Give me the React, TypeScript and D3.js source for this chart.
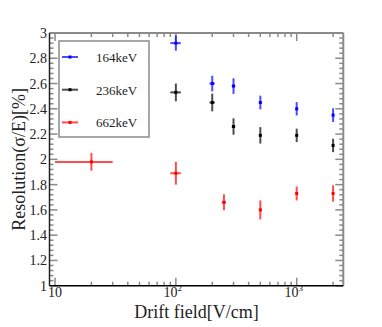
import React from "react";
import * as d3 from "d3";

// drift field [V/cm] and resolution [%] per source line
const fields164 = [100, 200, 300, 500, 1000, 2000];
const res164 = [2.92, 2.6, 2.58, 2.45, 2.4, 2.35];
const err164 = [0.06, 0.062, 0.062, 0.054, 0.053, 0.054];

const fields236 = [100, 200, 300, 500, 1000, 2000];
const res236 = [2.53, 2.45, 2.26, 2.19, 2.19, 2.11];
const err236 = [0.07, 0.07, 0.065, 0.065, 0.053, 0.053];

const fields662 = [20, 100, 250, 500, 1000, 2000];
const res662 = [1.98, 1.89, 1.66, 1.6, 1.73, 1.73];
const err662 = [0.07, 0.09, 0.063, 0.075, 0.055, 0.065];

const fieldErr = 10;

const yMajor = [1, 1.2, 1.4, 1.6, 1.8, 2, 2.2, 2.4, 2.6, 2.8, 3];
const xDecades = [10, 100, 1000];
const xDecadeExp = ["", "2", "3"];

const series = [
  { name: "164keV", color: "#0000ff", x: fields164, y: res164, e: err164 },
  { name: "236keV", color: "#000000", x: fields236, y: res236, e: err236 },
  { name: "662keV", color: "#ff0000", x: fields662, y: res662, e: err662 },
];

const W = 382;
const H = 327;
const font = "'Liberation Serif', 'DejaVu Serif', serif";

export default function App() {
  const x = d3.scaleLog().domain([9, 2430]).range([49.5, 343.3]);
  const y = d3.scaleLinear().domain([1, 3]).range([285.7, 33]);
  const [x0, x1] = x.range();
  const [y0, y1] = y.range();

  const yMinor = d3.range(1, 3.0001, 0.04).filter(
    (v) => !yMajor.some((m) => Math.abs(m - v) < 1e-6)
  );
  const xMinor: number[] = [];
  [10, 100, 1000].forEach((d) => {
    for (let k = 2; k <= 9; k++) if (d * k <= 2430) xMinor.push(d * k);
  });

  const tickColor = "#8a8a8a";

  return (
    <svg
      width={W}
      height={H}
      style={{ position: "absolute", left: 0, top: 0, background: "#fff" }}
      fontFamily={font}
    >
      {/* frame: top and right in grey */}
      <line x1={x0} x2={x1} y1={y1} y2={y1} stroke="#8a8a8a" strokeWidth={2} />
      <line x1={x1} x2={x1} y1={y1} y2={y0} stroke="#8a8a8a" strokeWidth={2} />

      {/* y ticks left and right */}
      {yMajor.map((v) => (
        <g key={"ym" + v}>
          <line x1={x0} x2={x0 + 8} y1={y(v)} y2={y(v)} stroke={tickColor} strokeWidth={1.5} />
          <line x1={x1} x2={x1 - 8} y1={y(v)} y2={y(v)} stroke={tickColor} strokeWidth={1.5} />
          <text x={47} y={y(v) + 5} fontSize={14} textAnchor="end" fill="#222">
            {d3.format("~g")(v)}
          </text>
        </g>
      ))}
      {yMinor.map((v) => (
        <g key={"yn" + v}>
          <line x1={x0} x2={x0 + 4} y1={y(v)} y2={y(v)} stroke={tickColor} strokeWidth={1.5} />
          <line x1={x1} x2={x1 - 4} y1={y(v)} y2={y(v)} stroke={tickColor} strokeWidth={1.5} />
        </g>
      ))}

      {/* x ticks bottom and top */}
      {xDecades.map((v) => (
        <g key={"xm" + v}>
          <line x1={x(v)} x2={x(v)} y1={y0} y2={y0 - 8} stroke={tickColor} strokeWidth={1.5} />
          <line x1={x(v)} x2={x(v)} y1={y1} y2={y1 + 8} stroke={tickColor} strokeWidth={1.5} />
        </g>
      ))}
      {xMinor.map((v) => (
        <g key={"xn" + v}>
          <line x1={x(v)} x2={x(v)} y1={y0} y2={y0 - 4} stroke={tickColor} strokeWidth={1.5} />
          <line x1={x(v)} x2={x(v)} y1={y1} y2={y1 + 4} stroke={tickColor} strokeWidth={1.5} />
        </g>
      ))}
      {xDecades.map((v, i) => (
        <text key={"xl" + v} x={x(v) + (i ? -3 : 0)} y={297} fontSize={14} textAnchor="middle" fill="#222">
          10
          {xDecadeExp[i] && (
            <tspan fontSize={9} dy={-6}>
              {xDecadeExp[i]}
            </tspan>
          )}
        </text>
      ))}

      {/* main axis lines */}
      <line x1={x0} x2={x0} y1={y1} y2={y0} stroke="#222" strokeWidth={1.5} />
      <line x1={x0} x2={x1} y1={y0} y2={y0} stroke="#000" strokeWidth={1.5} />

      {/* data with error bars */}
      {series.map((s) => (
        <g key={s.name}>
          {s.x.map((fx, i) => {
            const cx = x(fx);
            const cy = y(s.y[i]);
            return (
              <g key={i}>
                <line
                  x1={x(fx - fieldErr)}
                  x2={x(fx + fieldErr)}
                  y1={cy}
                  y2={cy}
                  stroke={s.color}
                  strokeOpacity={0.7}
                  strokeWidth={2}
                />
                <line
                  x1={cx}
                  x2={cx}
                  y1={y(s.y[i] - s.e[i])}
                  y2={y(s.y[i] + s.e[i])}
                  stroke={s.color}
                  strokeOpacity={0.7}
                  strokeWidth={2}
                />
                <rect x={cx - 1.5} y={cy - 1.5} width={3} height={3} fill={s.color} />
              </g>
            );
          })}
        </g>
      ))}

      {/* legend */}
      <rect x={59} y={41} width={90} height={96} fill="#fff" stroke="#8a8a8a" strokeWidth={1.5} />
      {series.map((s, i) => {
        const ly = 57 + i * 32.7;
        return (
          <g key={"lg" + s.name}>
            <line x1={62} x2={78} y1={ly} y2={ly} stroke={s.color} strokeOpacity={0.7} strokeWidth={2} />
            <rect x={68.5} y={ly - 1.5} width={3} height={3} fill={s.color} />
            <text x={96} y={ly + 5} fontSize={13} fill="#222">
              {s.name}
            </text>
          </g>
        );
      })}

      {/* axis titles */}
      <text x={(x0 + x1) / 2} y={318} fontSize={18} textAnchor="middle" fill="#222">
        Drift field[V/cm]
      </text>
      <text
        transform={`translate(25,${(y0 + y1) / 2}) rotate(-90)`}
        fontSize={18}
        textAnchor="middle"
        fill="#222"
      >
        Resolution(σ/E)[%]
      </text>
    </svg>
  );
}
